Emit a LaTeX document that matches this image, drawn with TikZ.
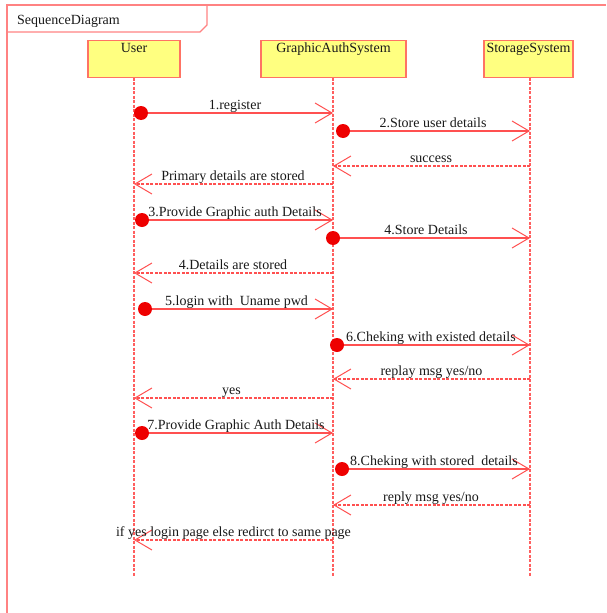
\documentclass[tikz,border=0pt]{standalone}
\usepackage{fontspec}
\setmainfont{Liberation Serif}
\usetikzlibrary{arrows.meta}
\definecolor{framered}{RGB}{255,130,130}
\definecolor{boxedge}{RGB}{255,115,100}
\definecolor{boxfill}{RGB}{255,255,128}
\definecolor{msgred}{RGB}{255,80,80}
\definecolor{lifered}{RGB}{255,95,95}
\definecolor{dotred}{RGB}{238,0,0}
\pgfdeclarelayer{wires}
\pgfsetlayers{wires,main}
\begin{document}
\begin{tikzpicture}[x=1pt,y=-1pt,
  font=\fontsize{14}{16}\selectfont,
  frameline/.style={draw=framered, line width=1.3pt},
  lifebox/.style={draw=boxedge, fill=boxfill, line width=1.3pt, minimum height=37pt, inner sep=0pt},
  boxtext/.style={anchor=north, inner sep=0pt, text=black!90},
  lifeline/.style={draw=lifered, line width=1.2pt, dash pattern=on 3pt off 1.5pt},
  tipv/.style={-{Straight Barb[length=17pt,width=20pt,line width=1pt]}},
  call/.style={draw=msgred, line width=1.2pt, tipv},
  reply/.style={draw=msgred, line width=1.2pt, dash pattern=on 3pt off 1.5pt, tipv},
  dot/.style={circle, fill=dotred, inner sep=0pt, minimum size=14pt},
  msglabel/.style={anchor=base, inner sep=0pt, text=black!90, yshift=-1.5pt}]
\useasboundingbox (0,0) rectangle (606,613);

% diagram frame and its name tab
\draw[frameline] (7,613) -- (7,5) -- (606,5);
\draw[frameline] (207,5) -- (207,25) -- (200,32) -- (7,32);
\node[anchor=base west, inner sep=0pt, text=black!90] (title) at (17,24) {SequenceDiagram};

% participants
\node[lifebox, minimum width=92pt] (user) at (134,59) {};
\node[boxtext] (userlbl) at (134,43) {User};
\node[lifebox, minimum width=145pt] (auth) at (333.5,59) {};
\node[boxtext] (authlbl) at (333.5,43) {GraphicAuthSystem};
\node[lifebox, minimum width=89pt] (store) at (528.5,59) {};
\node[boxtext] (storelbl) at (528.5,43) {StorageSystem};

% lifelines
\coordinate (usertop) at (134,77.7);
\coordinate (userend) at (134,576);
\coordinate (authtop) at (333,77.7);
\coordinate (authend) at (333,576);
\coordinate (storetop) at (530,77.7);
\coordinate (storeend) at (530,576);
\begin{pgfonlayer}{wires}
\draw[lifeline] (usertop) -- (userend);
\draw[lifeline] (authtop) -- (authend);
\draw[lifeline] (storetop) -- (storeend);
\end{pgfonlayer}

% synchronous calls: start dot, solid line, open arrowhead
\node[dot] (d1) at (141,113) {};
\coordinate (a1) at (333,113);
\node[dot] (d2) at (343,131) {};
\coordinate (a2) at (530,131);
\node[dot] (d5) at (142,220) {};
\coordinate (a5) at (333,220);
\node[dot] (d6) at (333,238) {};
\coordinate (a6) at (530,238);
\node[dot] (d8) at (145,309) {};
\coordinate (a8) at (333,309);
\node[dot] (d9) at (337,345) {};
\coordinate (a9) at (530,345);
\node[dot] (d12) at (142,433) {};
\coordinate (a12) at (333,433);
\node[dot] (d13) at (342,469) {};
\coordinate (a13) at (530,469);
\begin{pgfonlayer}{wires}
\draw[call] (d1.center) -- (a1);
\draw[call] (d2.center) -- (a2);
\draw[call] (d5.center) -- (a5);
\draw[call] (d6.center) -- (a6);
\draw[call] (d8.center) -- (a8);
\draw[call] (d9.center) -- (a9);
\draw[call] (d12.center) -- (a12);
\draw[call] (d13.center) -- (a13);
\end{pgfonlayer}

% return messages: dashed line, open arrowhead
\coordinate (r3s) at (530,166);
\coordinate (r3e) at (333,166);
\coordinate (r4s) at (333,184);
\coordinate (r4e) at (134,184);
\coordinate (r7s) at (333,273);
\coordinate (r7e) at (134,273);
\coordinate (r10s) at (530,379);
\coordinate (r10e) at (333,379);
\coordinate (r11s) at (333,398);
\coordinate (r11e) at (134,398);
\coordinate (r14s) at (530,505);
\coordinate (r14e) at (333,505);
\coordinate (r15s) at (333,540);
\coordinate (r15e) at (134,540);
\begin{pgfonlayer}{wires}
\draw[reply] (r3s) -- (r3e);
\draw[reply] (r4s) -- (r4e);
\draw[reply] (r7s) -- (r7e);
\draw[reply] (r10s) -- (r10e);
\draw[reply] (r11s) -- (r11e);
\draw[reply] (r14s) -- (r14e);
\draw[reply] (r15s) -- (r15e);
\end{pgfonlayer}

% message labels
\node[msglabel] (t1) at (235,108) {1.register};
\node[msglabel] (t2) at (433,126) {2.Store user details};
\node[msglabel] (t3) at (431,161) {success};
\node[msglabel] (t4) at (233,179) {Primary details are stored};
\node[msglabel] (t5) at (235,215) {3.Provide Graphic auth Details};
\node[msglabel] (t6) at (426,233) {4.Store Details};
\node[msglabel] (t7) at (233,268) {4.Details are stored};
\node[msglabel] (t8) at (236.5,304) {5.login with\ \ Uname pwd};
\node[msglabel] (t9) at (431,340) {6.Cheking with existed details};
\node[msglabel] (t10) at (431.5,374) {replay msg yes/no};
\node[msglabel] (t11) at (231.5,393) {yes};
\node[msglabel] (t12) at (236,428) {7.Provide Graphic Auth Details};
\node[msglabel] (t13) at (434,464) {8.Cheking with stored\ \ details};
\node[msglabel] (t14) at (431,500) {reply msg yes/no};
\node[msglabel] (t15) at (233.5,535) {if yes login page else redirct to same page};
\end{tikzpicture}
\end{document}
